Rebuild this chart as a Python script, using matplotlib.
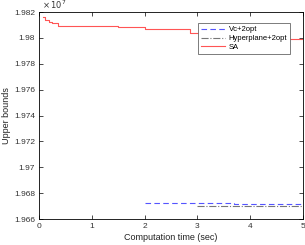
import matplotlib.pyplot as plt
import numpy as np

# SA upper bound over time (step curve)
sa_t = [0.07, 0.11, 0.19, 0.25, 0.36, 1.50, 2.00, 2.86, 4.70, 5.00]
sa_v = [1.98159e7, 1.98138e7, 1.98123e7, 1.98113e7, 1.98092e7,
        1.98084e7, 1.98069e7, 1.98041e7, 1.97988e7, 1.97988e7]

# Vc+2opt
vc_t = [2.00, 3.70, 5.00]
vc_v = [1.96724e7, 1.96718e7, 1.96718e7]

# Hyperplane+2opt
hp_t = [2.99, 5.00]
hp_v = [1.96704e7, 1.96704e7]

yticks = np.arange(1.966e7, 1.9821e7, 0.002e7)

plt.rcParams['font.family'] = ['Liberation Sans', 'DejaVu Sans']
plt.rcParams['font.size'] = 6

fig = plt.figure(figsize=(3.05, 2.45), dpi=100)
ax = fig.add_axes([0.128, 0.106, 0.865, 0.845])

ax.plot(vc_t, vc_v, color='#5555ff', ls=(0, (5, 3)), lw=0.8, drawstyle='steps-post', label='Vc+2opt')
ax.plot(hp_t, hp_v, color='#777777', ls='-.', lw=0.8, drawstyle='steps-post', label='Hyperplane+2opt')
ax.plot(sa_t, sa_v, color='#ff5555', lw=0.8, drawstyle='steps-post', label='SA')

ax.set_xlim(0, 5)
ax.set_ylim(1.966e7, 1.982e7)
ax.set_yticks(yticks)
ax.set_yticklabels(['%g' % (v / 1e7) for v in yticks])
ax.set_xticks(range(6))
ax.tick_params(direction='in', top=True, right=True, length=3, width=0.5, labelsize=6,
               pad=3, labelcolor='#333333')
for s in ax.spines.values():
    s.set_linewidth(0.6)

ax.text(0.01, 1.005, r'$\times\,10^7$', transform=ax.transAxes, fontsize=6, va='bottom',
        ha='left', color='#333333')

ax.set_xlabel('Computation time (sec)', fontsize=6.5, labelpad=2, color='#222222')
ax.set_ylabel('Upper bounds', fontsize=6.5, labelpad=2, color='#222222')

leg = ax.legend(loc='upper right', bbox_to_anchor=(0.975, 0.975), fontsize=5.5, fancybox=False,
                framealpha=1, edgecolor='#666666', handlelength=3.2, borderpad=0.35,
                labelspacing=0.2, handletextpad=0.5, borderaxespad=0.8)
leg.get_frame().set_linewidth(0.6)

fig.savefig('out.png', dpi=100)
